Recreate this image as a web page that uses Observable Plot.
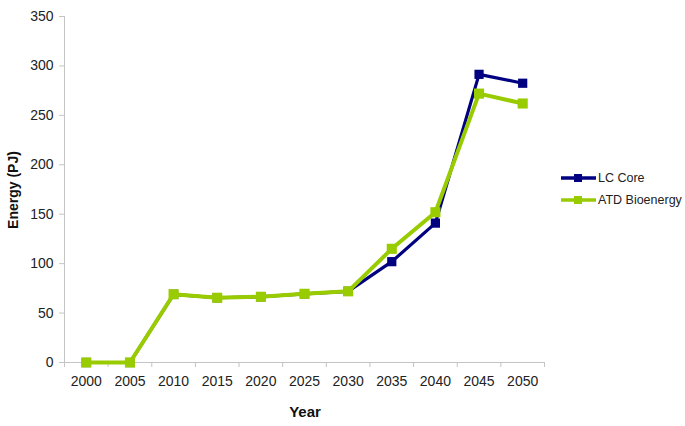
<!DOCTYPE html>
<html>
<head>
<meta charset="utf-8">
<script src="https://cdn.jsdelivr.net/npm/d3@7"></script>
<script src="https://cdn.jsdelivr.net/npm/@observablehq/plot@0.6"></script>
<style>
  html, body { margin: 0; padding: 0; background: #fff; }
  #wrap { position: relative; width: 685px; height: 426px; font-family: "Liberation Sans", Arial, sans-serif; }
  #legend { position: absolute; left: 560px; top: 167px; font-size: 12.5px; color: #222; }
  .item { display: flex; align-items: center; height: 22px; }
  .item svg { margin-right: 1px; }
  #ylab { position: absolute; left: 13px; top: 190px; transform: translate(-50%, -50%) rotate(-90deg); font-weight: bold; font-size: 14px; color: #111; white-space: nowrap; }
  #xlab { position: absolute; left: 305px; top: 411px; transform: translate(-50%, -50%); font-weight: bold; font-size: 15px; color: #111; white-space: nowrap; }
</style>
</head>
<body>
<div id="wrap"></div>
<script>
const years = [2000, 2005, 2010, 2015, 2020, 2025, 2030, 2035, 2040, 2045, 2050];
const lcCore = [0, 0, 69, 65.5, 66.5, 69.5, 72, 102, 141, 291.5, 282.5];
const atdBio = [0, 0, 69, 65.5, 66.5, 69.5, 72, 115, 152, 272, 262];
const seriesNames = ["LC Core", "ATD Bioenergy"];
const seriesColors = ["#000080", "#99cc00"];
const yTicks = [0, 50, 100, 150, 200, 250, 300, 350];
const yLabel = "Energy (PJ)";
const xLabel = "Year";

const data = [];
seriesNames.forEach((name, si) => {
  const vals = si === 0 ? lcCore : atdBio;
  years.forEach((yr, i) => data.push({series: name, year: yr, value: vals[i]}));
});
const bounds = years.map(y => y - 2.5).concat([years[years.length - 1] + 2.5]);
const axisGrey = "#c4c4c4";

const chart = Plot.plot({
  width: 685,
  height: 426,
  marginLeft: 64,
  marginRight: 141,
  marginTop: 16,
  marginBottom: 64,
  style: {fontFamily: "Liberation Sans, Arial, sans-serif", fontSize: "14px", color: "#222", background: "#fff"},
  x: {domain: [bounds[0], bounds[bounds.length - 1]]},
  y: {domain: [0, 350]},
  color: {domain: seriesNames, range: seriesColors},
  marks: [
    Plot.ruleX([bounds[0]], {stroke: axisGrey}),
    Plot.ruleY([0], {stroke: axisGrey}),
    Plot.axisY({ticks: yTicks, tickSize: 5, tickPadding: 6, stroke: axisGrey, label: null, fontSize: 14, fill: "#222"}),
    Plot.axisX({ticks: bounds, tickSize: 5, tickFormat: () => "", stroke: axisGrey, label: null}),
    Plot.axisX({ticks: years, tickSize: 0, tickPadding: 14, tickFormat: d => String(d), label: null, fontSize: 14, fill: "#222"}),
    Plot.line(data.filter(d => d.series === seriesNames[0]), {x: "year", y: "value", stroke: "series", strokeWidth: 3.2}),
    Plot.dot(data.filter(d => d.series === seriesNames[0]), {x: "year", y: "value", fill: "series", symbol: "square", r: 5.2, stroke: "none"}),
    Plot.line(data.filter(d => d.series === seriesNames[1]), {x: "year", y: "value", stroke: "series", strokeWidth: 4}),
    Plot.dot(data.filter(d => d.series === seriesNames[1]), {x: "year", y: "value", fill: "series", symbol: "square", r: 5.7, stroke: "none"})
  ]
});
const wrap = document.getElementById("wrap");
wrap.appendChild(chart);

const yl = document.createElement("div"); yl.id = "ylab"; yl.textContent = yLabel; wrap.appendChild(yl);
const xl = document.createElement("div"); xl.id = "xlab"; xl.textContent = xLabel; wrap.appendChild(xl);

const legend = document.createElement("div");
legend.id = "legend";
seriesNames.forEach((name, i) => {
  const item = document.createElement("div");
  item.className = "item";
  item.innerHTML = `<svg width="37" height="10"><line x1="1" y1="5" x2="36" y2="5" stroke="${seriesColors[i]}" stroke-width="3.4"/><rect x="14" y="1" width="8" height="8" fill="${seriesColors[i]}"/></svg><span>${name}</span>`;
  legend.appendChild(item);
});
wrap.appendChild(legend);
</script>
</body>
</html>
